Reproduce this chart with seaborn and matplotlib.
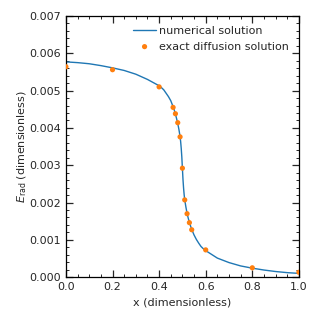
import numpy as np
import pandas as pd
import matplotlib
matplotlib.use("Agg")
import matplotlib.pyplot as plt
import seaborn as sns
from matplotlib.ticker import MultipleLocator

# numerical solution
x_num = [0.0, 0.05, 0.1, 0.15, 0.2, 0.25, 0.3, 0.35, 0.4, 0.41, 0.42, 0.43, 0.44,
         0.45, 0.46, 0.465, 0.47, 0.475, 0.48, 0.485, 0.49, 0.4925, 0.495, 0.4975,
         0.5, 0.5025, 0.505, 0.5075, 0.51, 0.515, 0.52, 0.525, 0.53, 0.535, 0.54,
         0.55, 0.56, 0.57, 0.58, 0.59, 0.6, 0.65, 0.7, 0.75, 0.8, 0.85, 0.9, 0.95, 1.0]
e_num = [0.00577, 0.00575, 0.00572, 0.00567, 0.00561, 0.00554, 0.00544, 0.00530,
         0.00513, 0.00508, 0.00502, 0.00493, 0.00484, 0.00473, 0.00457, 0.00448,
         0.00437, 0.00425, 0.00412, 0.00396, 0.00377, 0.00363, 0.00345, 0.00322,
         0.00292, 0.00262, 0.00239, 0.00221, 0.00207, 0.00188, 0.00171, 0.00158,
         0.00147, 0.00137, 0.00128, 0.00113, 0.00101, 0.00091, 0.00082, 0.00076,
         0.00071, 0.00051, 0.00039, 0.00030, 0.00024, 0.00019, 0.00015, 0.00012,
         0.00010]

# exact diffusion solution
x_exact = [0.0, 0.2, 0.4, 0.46, 0.47, 0.48, 0.49, 0.5, 0.51, 0.52, 0.53, 0.54, 0.6, 0.8, 1.0]
e_exact = [0.00564, 0.00556, 0.00510, 0.00455, 0.00438, 0.00414, 0.00376, 0.00292,
           0.00207, 0.00170, 0.00146, 0.00127, 0.00073, 0.00025, 0.00013]

sns.set_style("ticks")
plt.rcParams['font.family'] = ['DejaVu Sans']

fig = plt.figure(figsize=(3.2, 3.2), dpi=100)
ax = fig.add_axes([0.206, 0.134, 0.728, 0.816])

df_num = pd.DataFrame({"x": x_num, "E": e_num})
df_ex = pd.DataFrame({"x": x_exact, "E": e_exact})

sns.lineplot(data=df_num, x="x", y="E", ax=ax, color="tab:blue", lw=1.0,
             label="numerical solution")
sns.scatterplot(data=df_ex, x="x", y="E", ax=ax, color="tab:orange", s=14,
                edgecolor="none", label="exact diffusion solution", zorder=3)

ax.set_xlim(0, 1)
ax.set_ylim(0, 0.007)
ax.xaxis.set_major_locator(MultipleLocator(0.2))
ax.xaxis.set_minor_locator(MultipleLocator(0.05))
ax.yaxis.set_major_locator(MultipleLocator(0.001))
ax.yaxis.set_minor_locator(MultipleLocator(0.0002))
ax.tick_params(which="both", direction="in", top=True, right=True, labelsize=8)
ax.tick_params(which="major", length=5, width=0.9)
ax.tick_params(which="minor", length=2.5, width=0.7)
ax.set_yticklabels([f"{v:.3f}" for v in ax.get_yticks()])
for s in ax.spines.values():
    s.set_linewidth(0.9)
    s.set_color("black")

ax.set_xlabel("x (dimensionless)", fontsize=8, labelpad=4)
ax.set_ylabel(r"$E_\mathrm{rad}$ (dimensionless)", fontsize=8, labelpad=0.5)
ax.legend(loc="upper right", frameon=False, fontsize=8, handlelength=2,
          handletextpad=0.3, borderaxespad=0.5, labelspacing=0.5)

fig.savefig("out.png", dpi=100)
